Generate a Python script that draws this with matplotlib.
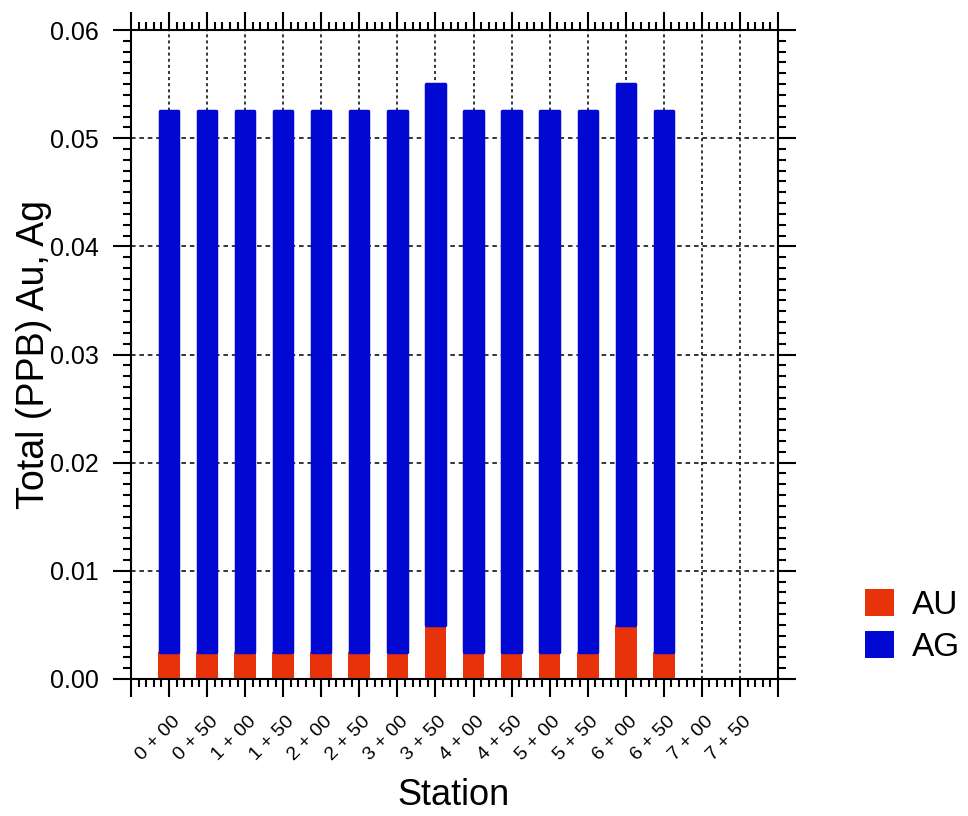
import numpy as np
import matplotlib.pyplot as plt
from matplotlib.patches import Patch
from matplotlib.ticker import MultipleLocator, FixedLocator
from matplotlib.transforms import ScaledTranslation

plt.rcParams['font.family'] = ['Liberation Sans', 'DejaVu Sans']

# Station chainage and assay results (ppb); 7+00 and 7+50 were not sampled
stations = ['0 + 00', '0 + 50', '1 + 00', '1 + 50', '2 + 00', '2 + 50',
            '3 + 00', '3 + 50', '4 + 00', '4 + 50', '5 + 00', '5 + 50',
            '6 + 00', '6 + 50', '7 + 00', '7 + 50']
au = [0.0025, 0.0025, 0.0025, 0.0025, 0.0025, 0.0025, 0.0025, 0.005,
      0.0025, 0.0025, 0.0025, 0.0025, 0.005, 0.0025, np.nan, np.nan]
ag = [0.05, 0.05, 0.05, 0.05, 0.05, 0.05, 0.05, 0.05,
      0.05, 0.05, 0.05, 0.05, 0.05, 0.05, np.nan, np.nan]

RED = '#E8330A'
BLUE = '#0008D2'

x = np.arange(len(stations))
au = np.array(au)
ag = np.array(ag)

fig = plt.figure(figsize=(9.68, 8.16), dpi=100)
ax = fig.add_axes([0.1353, 0.1679, 0.6684, 0.7953])

ax.bar(x, au, width=0.571, color=RED, linewidth=0, zorder=2)
ax.bar(x, ag, bottom=au, width=0.48, color=BLUE, edgecolor=BLUE,
       linewidth=2.5, joinstyle='round', zorder=2)

ax.set_xlim(-1, len(stations))
ax.set_ylim(0, 0.06)

# dotted grid behind the bars
for xi in x:
    ax.axvline(xi, color='black', lw=1.1, ls=(0, (2, 2)), zorder=1)
for yv in np.arange(0.01, 0.06, 0.01):
    ax.axhline(yv, color='black', lw=1.1, ls=(0, (3, 2.5)), zorder=1)

# ticks on all four sides, pointing outwards
major_x = np.arange(-1, len(stations) + 1)
ax.xaxis.set_major_locator(FixedLocator(major_x))
ax.xaxis.set_minor_locator(MultipleLocator(0.2))
ax.set_xticklabels([''] + stations + [''])
ax.yaxis.set_major_locator(MultipleLocator(0.01))
ax.yaxis.set_minor_locator(MultipleLocator(0.001))
ax.yaxis.set_major_formatter(plt.FormatStrFormatter('%.2f'))

ax.tick_params(which='both', direction='out', top=True, right=True,
               width=1.5, color='black')
ax.tick_params(which='major', length=13)
ax.tick_params(which='minor', length=6)
ax.tick_params(axis='y', which='major', labelsize=18, pad=10)
ax.tick_params(axis='x', which='major', labelsize=14, pad=30)

shift = ScaledTranslation(-11 / 100, 0, fig.dpi_scale_trans)
for lab in ax.get_xticklabels():
    lab.set_rotation(45)
    lab.set_ha('center')
    lab.set_va('center')
    lab.set_rotation_mode('anchor')
    lab.set_transform(lab.get_transform() + shift)

for sp in ax.spines.values():
    sp.set_linewidth(1.5)

ax.set_ylabel('Total (PPB) Au, Ag', fontsize=27)
ax.yaxis.set_label_coords(-0.122, 0.50)
ax.set_xlabel('Station', fontsize=26)
ax.xaxis.set_label_coords(0.499, -0.152)

handles = [Patch(facecolor=RED, edgecolor='none', label='AU'),
           Patch(facecolor=BLUE, edgecolor='none', label='AG')]
fig.legend(handles=handles, loc='upper left', bbox_to_anchor=(0.894, 0.278),
           frameon=False, fontsize=24, handlelength=0.85, handleheight=0.85,
           handletextpad=0.55, labelspacing=0.3, borderpad=0, borderaxespad=0)

fig.savefig('out.png', dpi=100)
